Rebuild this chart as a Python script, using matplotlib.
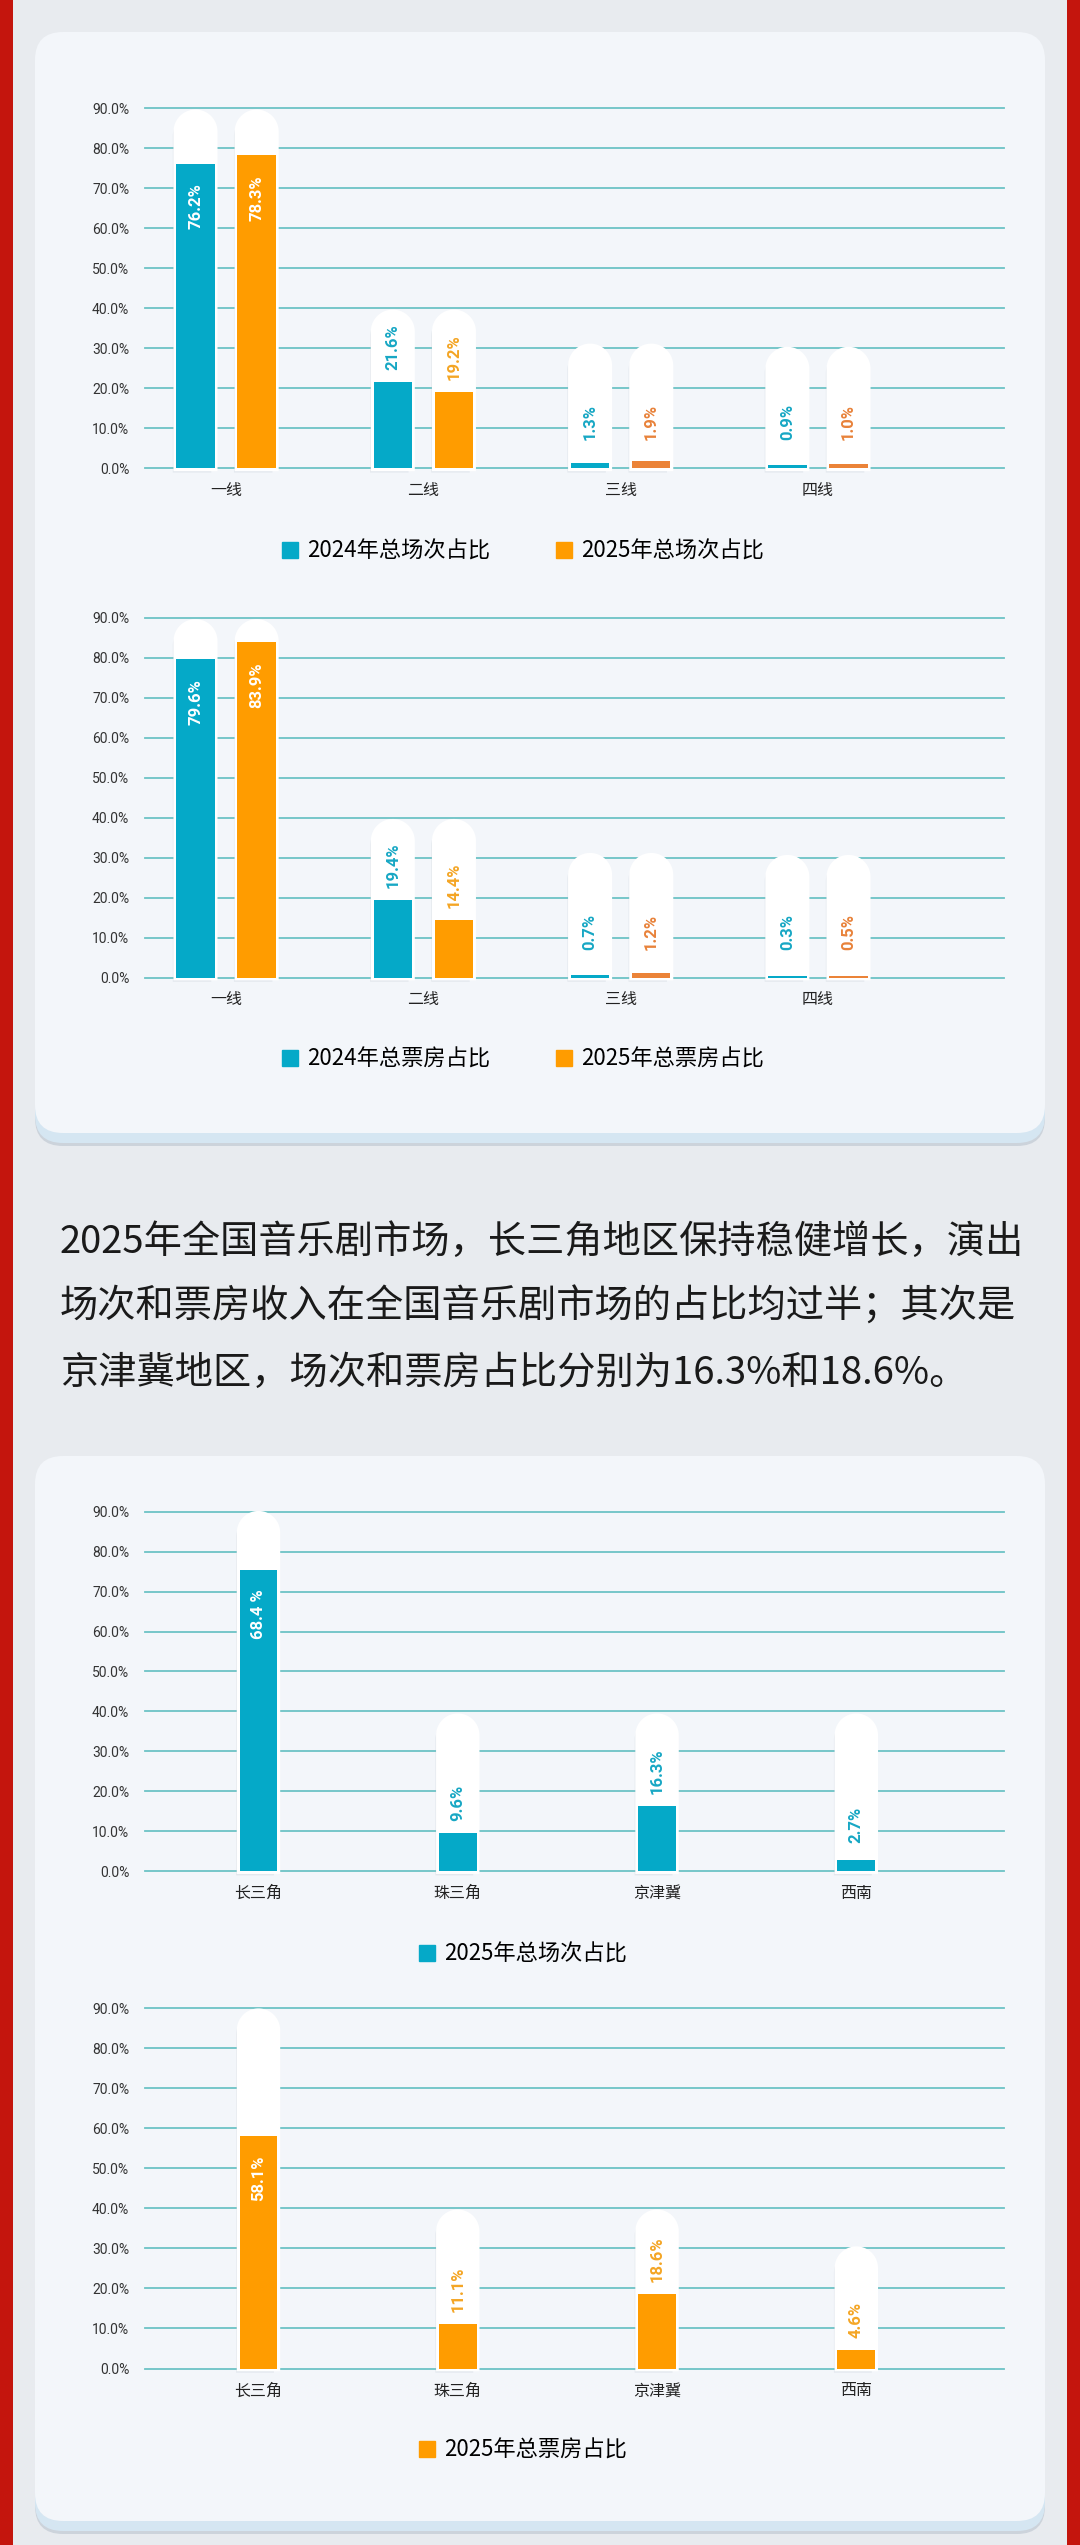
import numpy as np
import matplotlib.pyplot as plt
import matplotlib.patheffects as pe
from matplotlib.patches import Polygon, FancyBboxPatch, Rectangle, Patch

plt.rcParams['font.family'] = ['Noto Sans CJK SC', 'DejaVu Sans']

W, H = 1080, 2545

# data
tiers = ["一线", "二线", "三线", "四线"]
sessions_2024 = [76.2, 21.6, 1.3, 0.9]
sessions_2025 = [78.3, 19.2, 1.9, 1.0]
box_2024 = [79.6, 19.4, 0.7, 0.3]
box_2025 = [83.9, 14.4, 1.2, 0.5]

regions = ["长三角", "珠三角", "京津冀", "西南"]
region_sessions = [68.4, 9.6, 16.3, 2.7]
region_sessions_bar = [75.5, 9.6, 16.3, 2.7]   # the 长三角 bar is drawn taller than its label
region_sessions_text = ["68.4 %", "9.6%", "16.3%", "2.7%"]
region_box = [58.1, 11.1, 18.6, 4.6]

# heights of the white tubes behind the bars
tube_1 = [89, 39, 30.5, 29.7]
tube_2 = [89, 39, 30.5, 30]
tube_3 = [89.5, 38.8, 38.8, 38.8]
tube_4 = [89.2, 39, 39, 29.8]

paragraph = ["2025年全国音乐剧市场，长三角地区保持稳健增长，演出",
             "场次和票房收入在全国音乐剧市场的占比均过半；其次是",
             "京津冀地区，场次和票房占比分别为16.3%和18.6%。"]

BLUE = "#05A9C8"
ORANGE = "#FF9C00"
ORANGE_DK = "#EB8338"
LBL_BLUE = "#17A7C4"
LBL_OR = "#F4A524"
LBL_OR_DK = "#E8823A"
GRID = "#6CC3C5"

fig = plt.figure(figsize=(W / 100, H / 100), dpi=100)
fig.patch.set_facecolor("#E8EBEF")
T = fig.dpi_scale_trans

# red side stripes
fig.patches.append(Rectangle((0, 0), 0.127, H / 100, transform=T, fc="#C4150D", ec="none", zorder=-5))
fig.patches.append(Rectangle((10.667, 0), 0.14, H / 100, transform=T, fc="#C4150D", ec="none", zorder=-5))


def card(top, bottom, left=35, right=1045):
    x0, w = left / 100, (right - left) / 100
    y0, h = (H - bottom) / 100, (bottom - top) / 100
    style = "round,pad=0,rounding_size=0.28"
    fig.patches.append(FancyBboxPatch((x0, y0 - 0.13), w, h, boxstyle=style, transform=T,
                                      fc="#C5CDD6", ec="none", alpha=0.8, zorder=-4))
    fig.patches.append(FancyBboxPatch((x0, y0 - 0.10), w, h, boxstyle=style, transform=T,
                                      fc="#D5E6F2", ec="none", zorder=-3))
    fig.patches.append(FancyBboxPatch((x0, y0), w, h, boxstyle=style, transform=T,
                                      fc="#F3F6FA", ec="none", zorder=-2))


card(32, 1133)
card(1456, 2521)


def make_axes(y_top, y_bot, cats, xlim):
    x0, x1 = 144.6, 1004
    ax = fig.add_axes([x0 / W, 1 - y_bot / H, (x1 - x0) / W, (y_bot - y_top) / H])
    ax.set_xlim(*xlim)
    ax.set_ylim(0, 90)
    ax.patch.set_alpha(0)
    for s in ax.spines.values():
        s.set_visible(False)
    ticks = np.arange(0, 91, 10)
    ax.set_yticks(ticks)
    ax.set_yticklabels([f"{t:.1f}%" for t in ticks], family="Roboto", fontsize=10, color="#333333")
    ax.tick_params(axis="y", length=0, pad=11)
    ax.set_xticks(range(len(cats)))
    ax.set_xticklabels(cats, fontsize=11.5, color="#222222")
    ax.tick_params(axis="x", length=0, pad=10)
    ax.grid(axis="y", color=GRID, lw=1.3)
    ax.set_axisbelow(True)
    for l in ax.get_ygridlines():
        l.set_clip_on(False)
    ax._px = ((x1 - x0) / (xlim[1] - xlim[0]), (y_bot - y_top) / 90)
    return ax


def tube(ax, x, w, top):
    sx, sy = ax._px
    ry = (w * sx / 2) / sy
    t = np.linspace(np.pi, 0, 40)
    pts = [(x - w / 2, 0)] + list(zip(x + w / 2 * np.cos(t), top - ry + ry * np.sin(t))) + [(x + w / 2, 0)]
    p = Polygon(pts, closed=True, fc="white", ec="white", lw=4, zorder=2, clip_on=False,
                path_effects=[pe.SimplePatchShadow(offset=(-2.5, -3), shadow_rgbFace="#A7B2BE", alpha=0.2),
                              pe.Normal()])
    ax.add_patch(p)


def value_label(ax, x, v, text, out_color):
    kw = dict(rotation=90, ha="center", family="Roboto", weight="bold", fontsize=12, zorder=4)
    if v >= 50:
        ax.text(x, v - 5, text, va="top", color="white", **kw)
    else:
        ax.text(x, max(v, 4) + 3, text, va="bottom", color=out_color, **kw)


def paired_chart(y_top, y_bot, a, b, tubes, legend_y, names):
    ax = make_axes(y_top, y_bot, tiers, (-0.413, 3.943))
    x = np.arange(len(tiers))
    w, off = 0.195, 0.155
    or_colors = [ORANGE, ORANGE, ORANGE_DK, ORANGE_DK]
    or_lbl = [LBL_OR, LBL_OR, LBL_OR_DK, LBL_OR_DK]
    for i in range(len(tiers)):
        tube(ax, x[i] - off, w, tubes[i])
        tube(ax, x[i] + off, w, tubes[i])
    ax.bar(x - off, a, w, color=BLUE, zorder=3)
    ax.bar(x + off, b, w, color=or_colors, zorder=3)
    for i in range(len(tiers)):
        value_label(ax, x[i] - off, a[i], f"{a[i]}%", LBL_BLUE)
        value_label(ax, x[i] + off, b[i], f"{b[i]}%", or_lbl[i])
    handles = [Patch(color=BLUE, label=names[0]), Patch(color=ORANGE, label=names[1])]
    fig.legend(handles=handles, loc="center", bbox_to_anchor=(523 / W, 1 - legend_y / H), ncol=2,
               frameon=False, fontsize=16, handlelength=0.7, handleheight=0.75,
               handletextpad=0.4, columnspacing=3.0)
    return ax


def single_chart(y_top, y_bot, vals, texts, tubes, color, lbl_color, legend_y, name):
    ax = make_axes(y_top, y_bot, regions, (-0.5715, 3.741))
    x = np.arange(len(regions))
    w = 0.19
    for i in range(len(regions)):
        tube(ax, x[i], w, tubes[i])
    ax.bar(x, vals, w, color=color, zorder=3)
    for i in range(len(regions)):
        value_label(ax, x[i], vals[i], texts[i], lbl_color)
    fig.legend(handles=[Patch(color=color, label=name)], loc="center",
               bbox_to_anchor=(523 / W, 1 - legend_y / H), frameon=False, fontsize=16,
               handlelength=0.7, handleheight=0.75, handletextpad=0.4)
    return ax


paired_chart(108.3, 468.4, sessions_2024, sessions_2025, tube_1, 551, ["2024年总场次占比", "2025年总场次占比"])
paired_chart(617.9, 977.6, box_2024, box_2025, tube_2, 1059, ["2024年总票房占比", "2025年总票房占比"])

single_chart(1511.7, 1871.2, region_sessions_bar, region_sessions_text, tube_3, BLUE, LBL_BLUE, 1954,
             "2025年总场次占比")
single_chart(2008, 2368.5, region_box, [f"{v}%" for v in region_box], tube_4, ORANGE, LBL_OR, 2450,
             "2025年总票房占比")

for i, line in enumerate(paragraph):
    fig.text(60 / W, 1 - (1242 + 65.5 * i) / H, line, fontsize=27.5, color="#1A1A1A", va="center", ha="left")

fig.savefig("out.png", dpi=100, facecolor=fig.get_facecolor())
